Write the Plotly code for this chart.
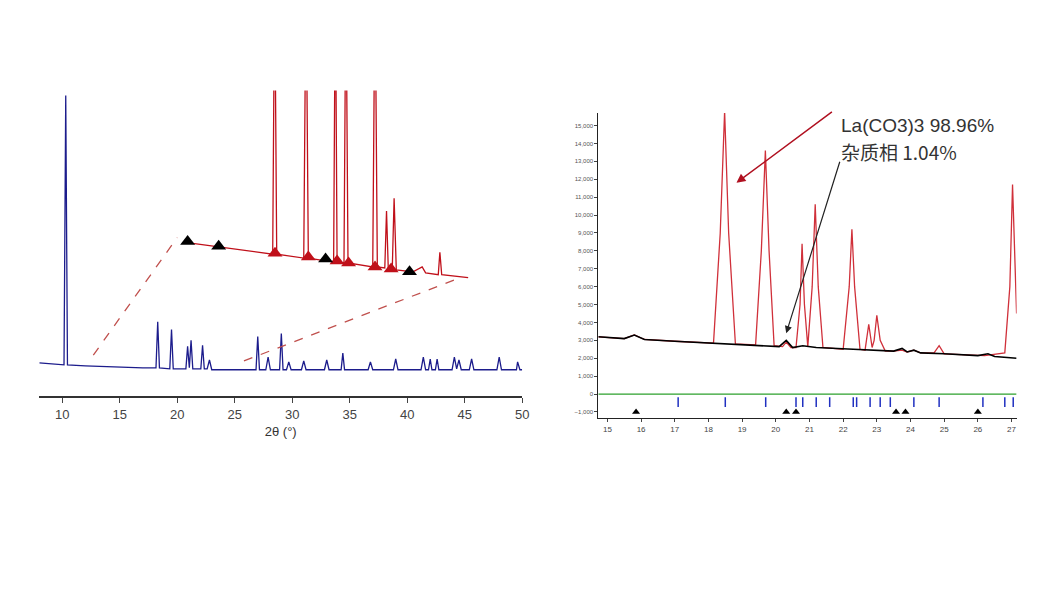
import plotly.graph_objects as go

# ---------- left panel: blue pattern (2theta, intensity a.u.)
blue_x = [8.0, 10.15, 10.3, 10.45, 12, 14, 17, 18.15, 18.3, 18.45, 19.35, 19.5, 19.65,
          20.75, 20.9, 21.05, 21.2, 21.35, 22.05, 22.2, 22.35, 22.6, 22.8, 23.0,
          26.85, 27.0, 27.15, 27.7, 27.9, 28.1, 28.9, 29.05, 29.2, 29.5, 29.7, 29.9,
          30.8, 31.0, 31.2, 32.8, 33.0, 33.2, 34.25, 34.4, 34.55, 36.6, 36.8, 37.0,
          38.8, 39.0, 39.2, 41.2, 41.4, 41.6, 41.85, 42.0, 42.15, 42.45, 42.6, 42.75,
          43.9, 44.1, 44.3, 44.5, 44.7, 45.4, 45.6, 45.8, 47.8, 48.0, 48.2, 49.5, 49.6, 49.8, 50.0]
blue_y = [2, 0, 275, 0, -1, -2, -3, -3, 44, -3, -4, 36, -4,
          -4, 19, -3, 25, -4, -4, 20, -4, -4, 5, -5,
          -5, 29, -5, -5, 8, -5, -5, 32, -5, -5, 3, -5,
          -5, 4, -5, -5, 5, -5, -5, 12, -5, -5, 3, -5,
          -5, 6, -5, -5, 8, -5, -5, 6, -5, -5, 6, -5,
          -5, 8, -4, 5, -5, -5, 6, -5, -5, 8, -5, -5, 3, -5, -5]

# inset (zoomed) red pattern, plotted in the same units
red_x = [20.7, 22.0, 24.0, 26.0, 28.3, 28.47, 28.65, 31.0, 31.2, 31.4, 33.6, 33.75, 33.9, 34.5, 34.67,
         34.85, 37.0, 37.2, 37.4, 38.05, 38.2, 38.35, 38.7, 38.86, 39.05, 40.5, 41.3, 41.6, 42.7, 42.84,
         43.0, 45.3]
red_y = [125, 123, 120, 117, 113, 400, 113, 109, 400, 109, 105, 400, 105, 104, 400,
         104, 100, 400, 100, 99, 157, 99, 98, 170, 97, 95, 100, 94, 92, 115,
         92, 89]
red_tri_x = [28.5, 31.4, 33.9, 34.9, 37.2, 38.6]
red_tri_y = [114, 110, 106, 104, 100, 98]
black_tri_x = [20.9, 23.6, 32.9, 40.2]
black_tri_y = [126, 121, 108, 95]
dash1_x, dash1_y = [12.7, 20.0], [10, 130]
dash2_x, dash2_y = [25.8, 44.6], [4, 89]
left_ticks = [10, 15, 20, 25, 30, 35, 40, 45, 50]

# ---------- right panel: refinement
obs_x = [14.73, 15.5, 15.8, 16.1, 17.0, 18.15, 18.35, 18.48, 18.6, 18.8, 19.4, 19.57, 19.69, 19.8,
         19.95, 20.2, 20.31, 20.45, 20.6, 20.72, 20.78, 20.85, 20.95, 21.08, 21.17, 21.26, 21.4,
         22.0, 22.18, 22.26, 22.34, 22.5, 22.65, 22.76, 22.86, 22.92, 23.0, 23.1, 23.25, 23.5,
         23.75, 23.9, 24.1, 24.3, 24.7, 24.85, 25.0, 25.8, 26.2, 26.8, 26.95, 27.03, 27.1, 27.15]
obs_y = [3200, 3100, 3300, 3050, 2950, 2850, 9000, 15800, 9000, 2800, 2750, 8000, 13600, 8000,
         2700, 2650, 2900, 2600, 2600, 5000, 8400, 5000, 2650, 6000, 10600, 6000, 2600,
         2500, 6000, 9200, 6000, 2500, 2450, 3900, 2600, 3000, 4400, 3000, 2400, 2400,
         2450, 2350, 2450, 2300, 2300, 2700, 2250, 2200, 2150, 2300, 6000, 11700, 6800, 4500]
calc_x = [14.73, 15.5, 15.8, 16.1, 17.0, 18.5, 19.7, 20.1, 20.31, 20.5, 20.8, 21.2, 22.3, 23.5,
          23.75, 23.9, 24.1, 24.3, 25.0, 26.0, 26.3, 26.5, 27.15]
calc_y = [3200, 3100, 3300, 3050, 2950, 2800, 2700, 2650, 3000, 2600, 2700, 2600, 2500, 2400,
          2550, 2350, 2450, 2300, 2250, 2150, 2250, 2100, 2000]
hkl_main = [17.1, 18.5, 19.7, 20.6, 20.8, 21.2, 21.6, 22.3, 22.4, 22.8, 23.1, 23.4, 24.1, 24.85,
            26.15, 26.8, 27.05]
hkl_imp = [15.85, 20.31, 20.6, 23.57, 23.85, 26.0]
right_ticks = list(range(15, 28))
right_yticks = list(range(-1000, 16000, 1000))

fig = go.Figure()
fig.add_trace(go.Scatter(x=blue_x, y=blue_y, mode="lines", line=dict(color="#1c1c8c", width=1.3)))
for dx, dy in [(dash1_x, dash1_y), (dash2_x, dash2_y)]:
    fig.add_trace(go.Scatter(x=dx, y=dy, mode="lines", line=dict(color="#c0504d", width=1.3, dash="dash")))
fig.add_trace(go.Scatter(x=red_x, y=red_y, mode="lines", line=dict(color="#c0101a", width=1.3)))
fig.add_trace(go.Scatter(x=red_tri_x, y=red_tri_y, mode="markers",
                         marker=dict(symbol="triangle-up", size=13, color="#c0101a")))
fig.add_trace(go.Scatter(x=black_tri_x, y=black_tri_y, mode="markers",
                         marker=dict(symbol="triangle-up", size=13, color="black")))

fig.add_trace(go.Scatter(x=[14.73, 27.15], y=[0, 0], mode="lines", line=dict(color="#2ca02c", width=1.2),
                         xaxis="x2", yaxis="y2"))
fig.add_trace(go.Scatter(x=obs_x, y=obs_y, mode="lines", line=dict(color="#d0303a", width=1.3),
                         xaxis="x2", yaxis="y2"))
fig.add_trace(go.Scatter(x=calc_x, y=calc_y, mode="lines", line=dict(color="black", width=1.6),
                         xaxis="x2", yaxis="y2"))
fig.add_trace(go.Scatter(x=hkl_main, y=[-450] * len(hkl_main), mode="markers",
                         marker=dict(symbol="line-ns", size=7, line=dict(color="#2030c0", width=1.5)),
                         xaxis="x2", yaxis="y2"))
fig.add_trace(go.Scatter(x=hkl_imp, y=[-1000] * len(hkl_imp), mode="markers",
                         marker=dict(symbol="triangle-up", size=7, color="black"),
                         xaxis="x2", yaxis="y2"))

fig.update_layout(
    width=1050, height=590, margin=dict(l=0, r=0, t=0, b=0),
    paper_bgcolor="white", plot_bgcolor="white", showlegend=False,
    font=dict(family="Liberation Sans, Arial", color="#333"),
    xaxis=dict(domain=[0.03, 0.493], range=[8, 50], tickvals=left_ticks, ticks="outside",
               ticklen=5, showline=True, linecolor="#333", linewidth=1.5, showgrid=False, zeroline=False,
               tickfont=dict(size=13, color="#444"),
               title=dict(text="2θ (°)", font=dict(size=13, color="#333"), standoff=6)),
    yaxis=dict(domain=[0.342, 0.86], range=[-32, 280], visible=False),
    xaxis2=dict(domain=[0.566, 0.967], range=[14.73, 27.15], anchor="y2", tickvals=right_ticks,
                ticks="outside", ticklen=3, showline=True, linecolor="#222", showgrid=False,
                zeroline=False, tickfont=dict(size=8, color="#444")),
    yaxis2=dict(domain=[0.305, 0.822], range=[-1340, 15700], anchor="x2", tickvals=right_yticks,
                tickformat=",", ticks="outside", ticklen=3, showline=True, linecolor="#222",
                showgrid=False, zeroline=False, tickfont=dict(size=6, color="#555")),
    annotations=[
        dict(xref="paper", yref="paper", x=0.797, y=1 - 118 / 590, xanchor="left", yanchor="middle",
             text="La(CO3)3 98.96%", showarrow=False, font=dict(size=19, color="#333")),
        dict(xref="paper", yref="paper", x=0.797, y=1 - 143 / 590, xanchor="left", yanchor="middle",
             text="杂质相 1.04%", showarrow=False,
             font=dict(size=19, color="#333", family="Noto Sans CJK SC")),
        dict(xref="x2", yref="y2", x=18.83, y=11800, ax=97, ay=-72, text="", showarrow=True,
             arrowhead=2, arrowsize=1.2, arrowwidth=1.5, arrowcolor="#b01020"),
        dict(xref="x2", yref="y2", x=20.31, y=3400, ax=54, ay=-173, text="", showarrow=True,
             arrowhead=2, arrowsize=1.2, arrowwidth=1.2, arrowcolor="#222"),
    ],
)
fig.write_html("out.html")
